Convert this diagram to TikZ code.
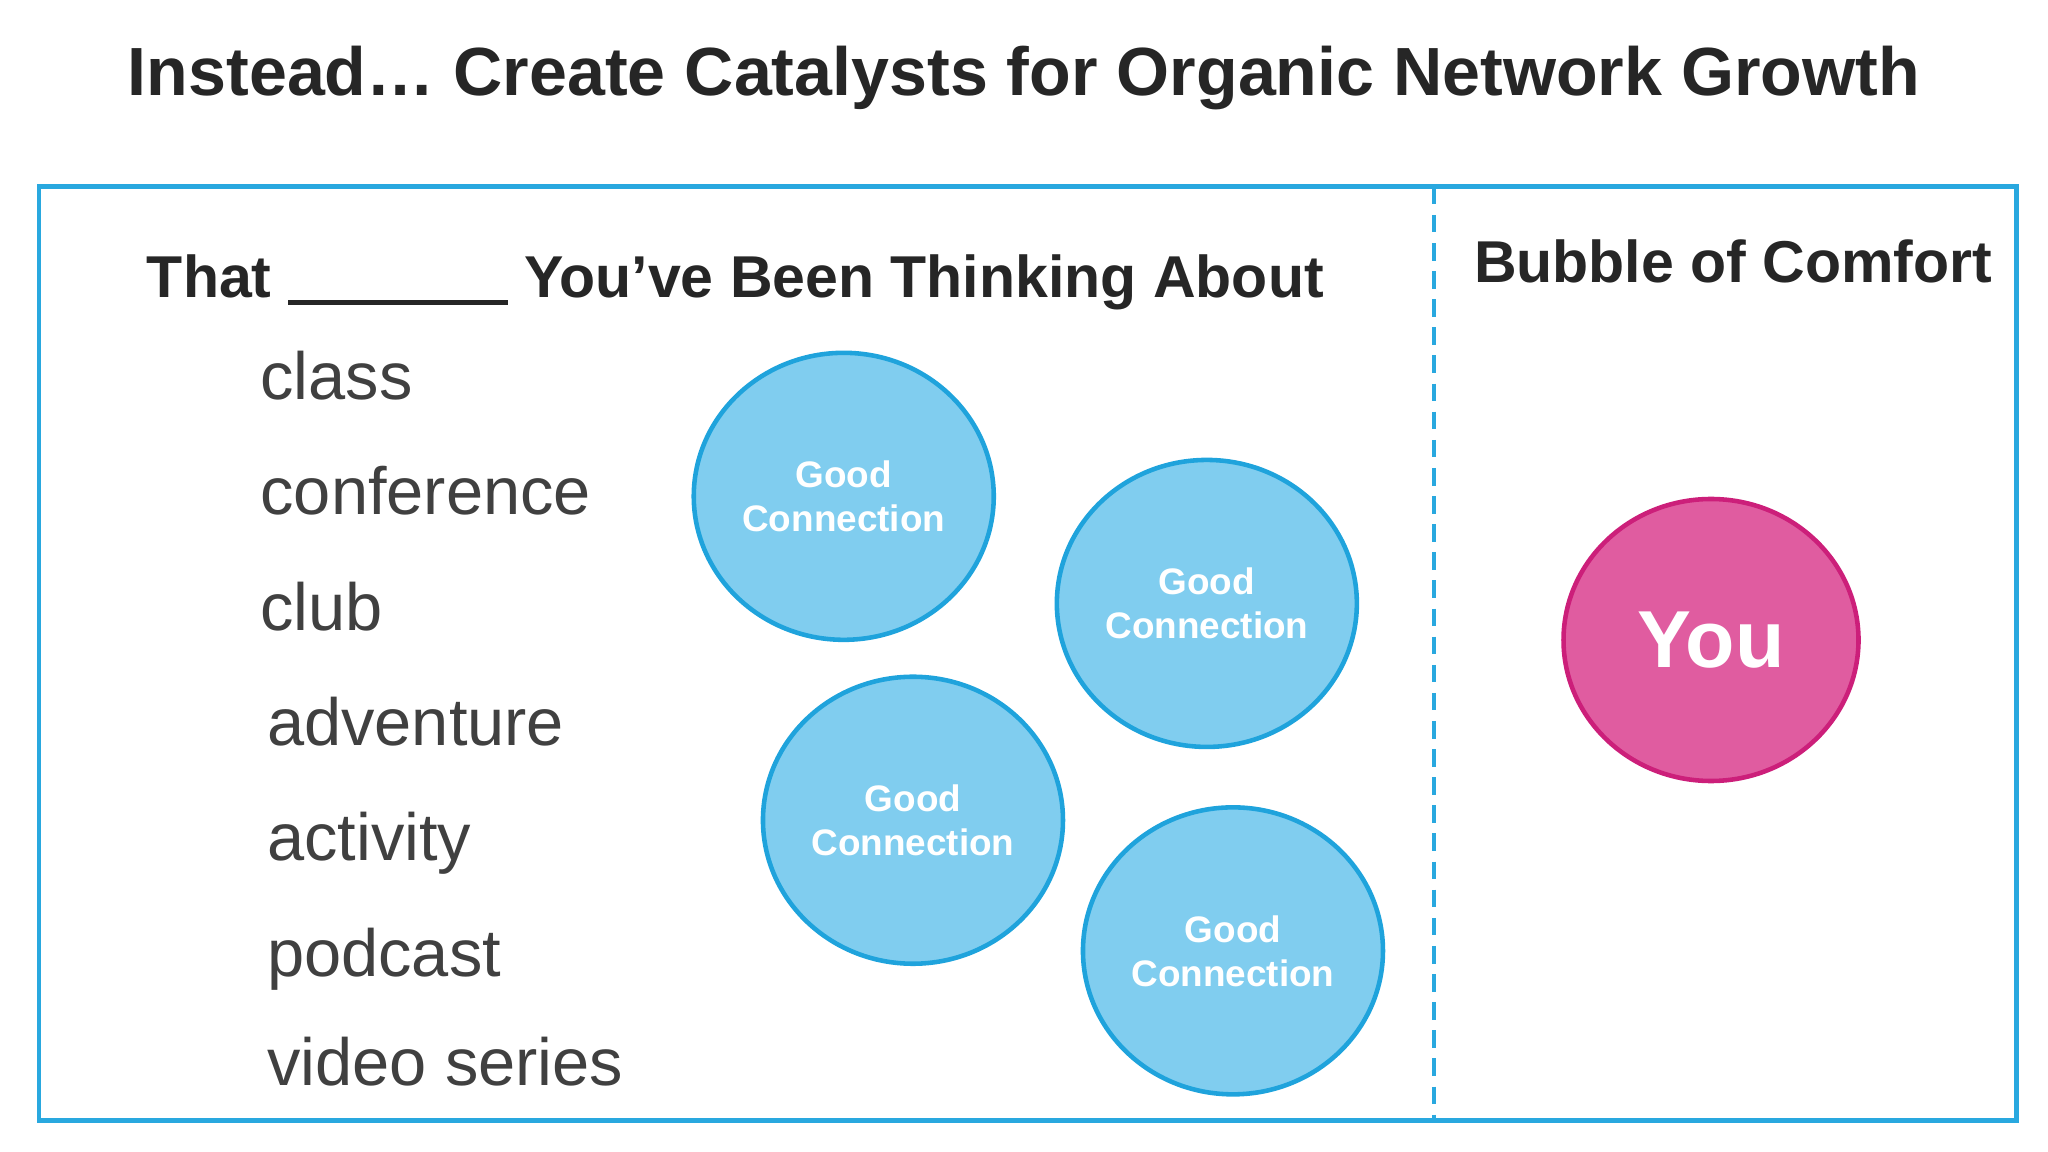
\documentclass[tikz,border=0pt]{standalone}
\usepackage{fontspec}
\setmainfont{Liberation Sans}
\usetikzlibrary{shapes.geometric}
\begin{document}
\begin{tikzpicture}[x=0.013061cm,y=-0.013061cm,
  frame/.style={draw=fb,line width=1.3pt},
  good/.style={ellipse,draw=gb,fill=gf,line width=1.3pt,minimum width=3.0cm,minimum height=2.87cm,text=white,font=\fontsize{10.5}{12.5}\selectfont\bfseries,align=center,inner sep=0},
  item/.style={anchor=base west,text=tx,font=\fontsize{19}{22}\selectfont}]
\definecolor{fb}{HTML}{29A8DF}
\definecolor{gf}{HTML}{80CDEF}
\definecolor{gb}{HTML}{1FA3DC}
\definecolor{pf}{HTML}{E05CA0}
\definecolor{pb}{HTML}{CC1F7A}
\definecolor{tx}{HTML}{404040}
\definecolor{tt}{HTML}{262626}
\useasboundingbox (0,0) rectangle (1568,882);
\node[text=tt,font=\fontsize{19.4}{24}\selectfont\bfseries] (title) at (784,60) {Instead… Create Catalysts for Organic Network Growth};
\draw[frame] (30,143) rectangle (1544,858);
\coordinate (dt) at (1098,143); \coordinate (db) at (1098,858);
\draw[fb,line width=1.3pt,dash pattern=on 5pt off 3pt] (dt) -- (db);
\node[anchor=base west,text=tt,font=\fontsize{16.8}{20}\selectfont\bfseries,inner sep=0] (head) at (112,228) {That \rule[-2pt]{2.2cm}{1.5pt} You’ve Been Thinking About};
\node[anchor=base west,text=tt,font=\fontsize{16.8}{20}\selectfont\bfseries,inner sep=0] (bub) at (1128,216) {Bubble of Comfort};
\node[item] (i1) at (190,306) {class};
\node[item] (i2) at (190,394) {conference};
\node[item] (i3) at (190,483) {club};
\node[item] (i4) at (195,571) {adventure};
\node[item] (i5) at (195,659) {activity};
\node[item] (i6) at (195,748) {podcast};
\node[item] (i7) at (195,831) {video series};
\node[good] (g1) at (646,380) {Good\\Connection};
\node[good] (g2) at (924,462) {Good\\Connection};
\node[good] (g3) at (699,628) {Good\\Connection};
\node[good] (g4) at (944,728) {Good\\Connection};
\node[ellipse,draw=pb,fill=pf,line width=1.3pt,minimum width=2.95cm,minimum height=2.82cm,text=white,font=\fontsize{23}{26}\selectfont\bfseries] (you) at (1310,490) {You};
\end{tikzpicture}
\end{document}
